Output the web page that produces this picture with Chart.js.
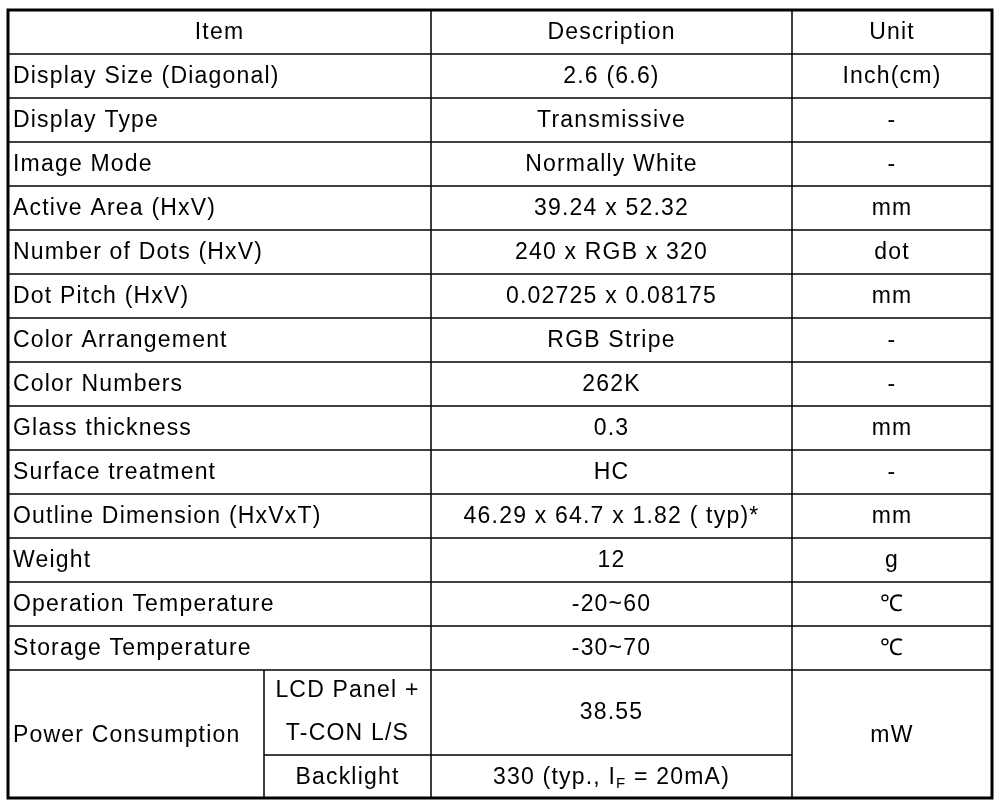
<!DOCTYPE html>
<html lang="en">
<head>
<meta charset="utf-8" />
<title>Spec table</title>
<script src="https://cdn.jsdelivr.net/npm/chart.js"></script>
<style>
  html, body { margin: 0; padding: 0; background: #fff; }
  #box { width: 1000px; height: 803px; position: relative; }
</style>
</head>
<body>
<div id="box"><canvas id="myChart"></canvas></div>
<script>
// table content
const headers = ['Item', 'Description', 'Unit'];
const items = ['Display Size (Diagonal)', 'Display Type', 'Image Mode', 'Active Area (HxV)',
  'Number of Dots (HxV)', 'Dot Pitch (HxV)', 'Color Arrangement', 'Color Numbers',
  'Glass thickness', 'Surface treatment', 'Outline Dimension (HxVxT)', 'Weight',
  'Operation Temperature', 'Storage Temperature'];
const descriptions = ['2.6 (6.6)', 'Transmissive', 'Normally White', '39.24 x 52.32',
  '240 x RGB x 320', '0.02725 x 0.08175', 'RGB Stripe', '262K', '0.3', 'HC',
  '46.29 x 64.7 x 1.82 ( typ)*', '12', '-20~60', '-30~70'];
const units = ['Inch(cm)', '-', '-', 'mm', 'dot', 'mm', '-', '-', 'mm', '-', 'mm', 'g', '℃', '℃'];
const powerItem = 'Power Consumption';
const powerParts = [['LCD Panel +', 'T-CON L/S'], ['Backlight']];
const powerValues = ['38.55', '330 (typ., I|F| = 20mA)'];
const powerUnit = 'mW';

// grid in picture units
const colX = [8, 431, 792, 992];
const subColX = 264;
const rowH = 44;
const top0 = 10;
const bottom = 798;
const powerSplit = 755;

const BIG = '23px "Liberation Sans", Arial, sans-serif';
const SMALL = '15px "Liberation Sans", Arial, sans-serif';

const tablePlugin = {
  id: 'table',
  afterDraw(chart) {
    const ctx = chart.ctx;
    const xs = chart.scales.x, ys = chart.scales.y;
    const X = v => xs.getPixelForValue(v);
    const Y = v => ys.getPixelForValue(v);
    const nRows = items.length + 1;
    const powerTop = top0 + rowH * nRows;
    ctx.save();
    ctx.strokeStyle = '#000';
    // inner lines
    ctx.lineWidth = 1.5;
    ctx.beginPath();
    for (let i = 1; i <= nRows; i++) {
      ctx.moveTo(X(colX[0]), Y(top0 + rowH * i));
      ctx.lineTo(X(colX[3]), Y(top0 + rowH * i));
    }
    ctx.moveTo(X(subColX), Y(powerSplit));
    ctx.lineTo(X(colX[2]), Y(powerSplit));
    ctx.moveTo(X(colX[1]), Y(top0)); ctx.lineTo(X(colX[1]), Y(bottom));
    ctx.moveTo(X(colX[2]), Y(top0)); ctx.lineTo(X(colX[2]), Y(bottom));
    ctx.moveTo(X(subColX), Y(powerTop)); ctx.lineTo(X(subColX), Y(bottom));
    ctx.stroke();
    // outer border
    ctx.lineWidth = 3;
    ctx.strokeRect(X(colX[0]), Y(top0), X(colX[3]) - X(colX[0]), Y(bottom) - Y(top0));

    ctx.fillStyle = '#000';
    ctx.font = BIG;
    ctx.letterSpacing = '1.2px';
    ctx.textBaseline = 'middle';
    const center = (t, x0, x1, y) => { ctx.textAlign = 'center'; ctx.fillText(t, X((x0 + x1) / 2), Y(y)); };
    const left = (t, x, y) => { ctx.textAlign = 'left'; ctx.fillText(t, X(x), Y(y)); };

    headers.forEach((h, i) => center(h, colX[i], colX[i + 1], top0 + rowH / 2 + 1));
    items.forEach((t, i) => {
      const y = top0 + rowH * (i + 1) + rowH / 2 + 1;
      left(t, colX[0] + 5, y);
      center(descriptions[i], colX[1], colX[2], y);
      center(units[i], colX[2], colX[3], y);
    });
    // power consumption block
    left(powerItem, colX[0] + 5, (powerTop + bottom) / 2 + 2);
    center(powerParts[0][0], subColX, colX[1], powerTop + 21);
    center(powerParts[0][1], subColX, colX[1], powerTop + 64);
    center(powerParts[1][0], subColX, colX[1], (powerSplit + bottom) / 2 + 1);
    center(powerValues[0], colX[1], colX[2], (powerTop + powerSplit) / 2);
    center(powerUnit, colX[2], colX[3], (powerTop + bottom) / 2 + 2);
    // value with subscript
    const parts = powerValues[1].split('|');
    const yb = Y((powerSplit + bottom) / 2 + 1);
    ctx.textAlign = 'left';
    const w0 = ctx.measureText(parts[0]).width;
    const w2 = ctx.measureText(parts[2]).width;
    ctx.font = SMALL;
    const w1 = ctx.measureText(parts[1]).width;
    let x = X((colX[1] + colX[2]) / 2) - (w0 + w1 + w2) / 2;
    ctx.font = BIG;
    ctx.fillText(parts[0], x, yb); x += w0;
    ctx.font = SMALL;
    ctx.fillText(parts[1], x, yb + 6); x += w1;
    ctx.font = BIG;
    ctx.fillText(parts[2], x, yb);
    ctx.restore();
  }
};

new Chart(document.getElementById('myChart'), {
  type: 'scatter',
  data: { datasets: [{ data: [] }] },
  options: {
    responsive: true,
    maintainAspectRatio: false,
    animation: false,
    layout: { padding: 0 },
    plugins: { legend: { display: false }, tooltip: { enabled: false } },
    scales: {
      x: { type: 'linear', min: 0, max: 1000, display: false },
      y: { type: 'linear', min: 0, max: 803, reverse: true, display: false }
    }
  },
  plugins: [tablePlugin]
});
</script>
</body>
</html>
